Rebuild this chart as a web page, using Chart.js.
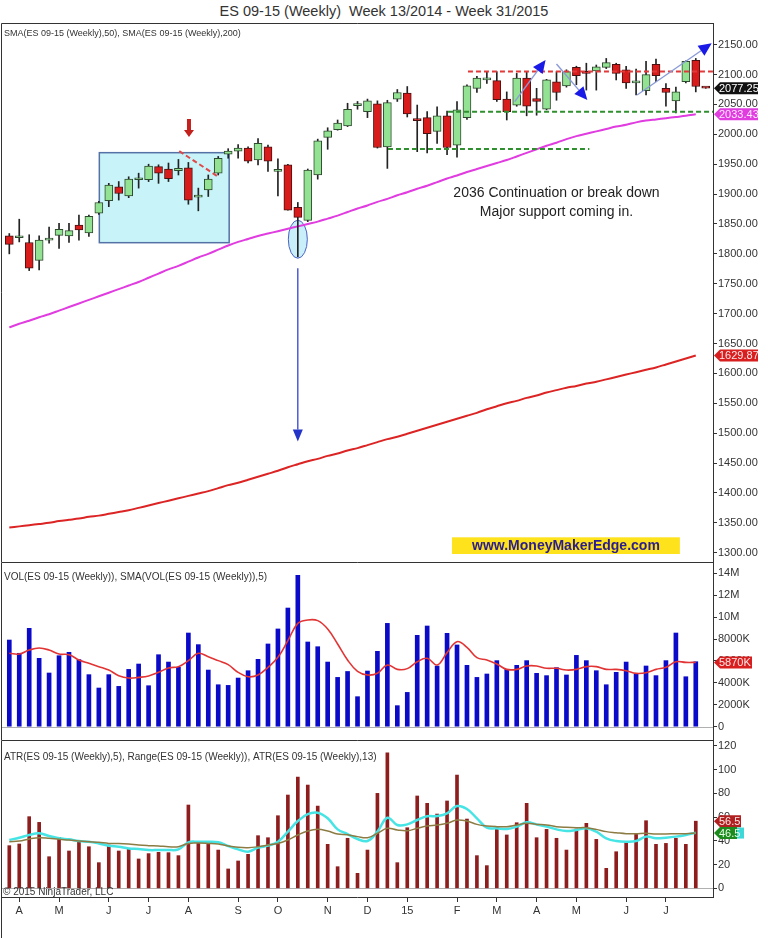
<!DOCTYPE html>
<html>
<head>
<meta charset="utf-8">
<title>ES 09-15 (Weekly)</title>
<script src="https://cdn.jsdelivr.net/npm/chart.js@4.4.1/dist/chart.umd.min.js"></script>
<style>
  html, body { margin: 0; padding: 0; background: #fff; }
  body { width: 768px; height: 938px; position: relative; overflow: hidden; font-family: "Liberation Sans", Arial, sans-serif; }
  #title { position: absolute; left: 0; top: 3px; width: 768px; text-align: center; font-size: 14.5px; color: #333; white-space: pre; }
  .pane { position: absolute; left: 0; width: 768px; }
  #pricePane { top: 23px; height: 539px; }
  #volPane { top: 562px; height: 178px; }
  #atrPane { top: 740px; height: 198px; }
</style>
</head>
<body>
<div id="title">ES 09-15 (Weekly)  Week 13/2014 - Week 31/2015</div>
<div class="pane" id="pricePane"><canvas id="priceChart"></canvas></div>
<div class="pane" id="volPane"><canvas id="volChart"></canvas></div>
<div class="pane" id="atrPane"><canvas id="atrChart"></canvas></div>
<script>
// weekly bars, index 0 = last week of March 2014, index 70 = week 31/2015
const opens = [1830, 1827, 1819, 1789, 1823, 1831, 1830, 1848, 1835, 1868,
  1889, 1912, 1897, 1924, 1924, 1946, 1942, 1939, 1944, 1895,
  1907, 1935, 1967, 1972, 1977, 1957, 1979, 1938, 1949, 1878,
  1856, 1932, 1995, 2008, 2014, 2048, 2038, 2051, 1979, 2059,
  2069, 2025, 2028, 2005, 2031, 1982, 2028, 2077, 2091, 2090,
  2059, 2049, 2094, 2060, 2042, 2088, 2081, 2112, 2105, 2106,
  2112, 2117, 2108, 2086, 2073, 2117, 2077, 2056, 2088, 2124,
  2078];
const highs = [1834, 1858, 1832, 1830, 1845, 1851, 1851, 1865, 1865, 1888,
  1918, 1921, 1929, 1935, 1950, 1949, 1952, 1958, 1953, 1910,
  1932, 1963, 1976, 1983, 1979, 1993, 1982, 1959, 1950, 1886,
  1942, 1992, 2011, 2024, 2052, 2055, 2059, 2056, 2057, 2075,
  2080, 2049, 2038, 2046, 2039, 2055, 2083, 2097, 2104, 2105,
  2071, 2102, 2105, 2077, 2092, 2105, 2108, 2114, 2119, 2116,
  2127, 2119, 2114, 2109, 2122, 2126, 2085, 2079, 2123, 2127,
  2078.5];
const lows = [1800, 1820, 1772, 1773, 1818, 1809, 1819, 1823, 1829, 1866,
  1879, 1890, 1894, 1910, 1921, 1918, 1921, 1932, 1883, 1872,
  1896, 1932, 1960, 1960, 1952, 1949, 1938, 1897, 1873, 1795,
  1854, 1925, 1975, 2007, 2013, 2042, 2028, 1977, 1943, 2055,
  2029, 1971, 1969, 1985, 1966, 1962, 2025, 2070, 2085, 2055,
  2024, 2047, 2031, 2032, 2041, 2057, 2079, 2083, 2074, 2074,
  2110, 2091, 2077, 2066, 2066, 2088, 2047, 2036, 2086, 2071,
  2077];
const closes = [1816, 1828, 1776, 1823, 1825, 1841, 1839, 1840, 1863, 1886,
  1915, 1901, 1925, 1926, 1947, 1935, 1926, 1943, 1890, 1896,
  1925, 1960, 1972, 1977, 1955, 1985, 1955, 1941, 1873, 1861,
  1940, 1989, 2006, 2019, 2042, 2049, 2056, 1978, 2053, 2070,
  2034, 2023, 2001, 2031, 1978, 2041, 2081, 2094, 2092, 2058,
  2038, 2094, 2047, 2055, 2091, 2070, 2105, 2098, 2102, 2113,
  2120, 2102, 2086, 2087, 2100, 2098, 2070, 2071, 2122, 2080,
  2077.25];

const sma50 = [1677, 1683, 1688, 1694, 1699, 1705, 1711, 1717, 1723, 1729,
  1735, 1741, 1747, 1753, 1760, 1767, 1774, 1780, 1787, 1794,
  1800, 1807, 1814, 1820, 1825, 1830, 1834, 1838, 1842, 1846,
  1850, 1854, 1859, 1864, 1870, 1876, 1881, 1887, 1892, 1898,
  1903, 1909, 1914, 1920, 1926, 1931, 1937, 1942, 1947, 1952,
  1957, 1963, 1969, 1975, 1981, 1986, 1992, 1997, 2001, 2005,
  2009, 2013, 2016, 2020, 2023, 2025, 2027, 2029, 2031, 2033.43];
const sma200 = [1342, 1344, 1346, 1348, 1350, 1353, 1355, 1357, 1360, 1362,
  1365, 1368, 1371, 1375, 1379, 1383, 1387, 1391, 1395, 1399,
  1403, 1408, 1413, 1417, 1422, 1427, 1432, 1437, 1443, 1448,
  1453, 1457, 1462, 1466, 1471, 1475, 1480, 1485, 1490, 1494,
  1499, 1504, 1509, 1514, 1519, 1524, 1529, 1534, 1540, 1545,
  1550, 1554, 1559, 1563, 1568, 1572, 1576, 1579, 1583, 1586,
  1590, 1594, 1598, 1602, 1606, 1610, 1615, 1620, 1625, 1629.87];

// volume in thousands of contracts
const volumes = [7910, 6700, 8980, 6240, 4900, 6480, 6790, 6120, 4750, 3530,
  4750, 3680, 5230, 5720, 3740, 6570, 5900, 5420, 8550, 7490,
  5170, 3830, 3770, 4440, 5110, 6150, 7550, 8920, 10830, 13820,
  7730, 7300, 5900, 4500, 5040, 2740, 5080, 6880, 9430, 1920,
  3130, 8340, 9190, 5540, 8520, 7460, 5600, 4500, 4810, 6030,
  5230, 5600, 6030, 4870, 4660, 5390, 4720, 6510, 6030, 5110,
  3830, 4960, 5900, 4810, 5540, 4660, 6030, 8550, 4560, 5930];
const volumeSma5 = [6700, 6630, 7000, 7180, 7000, 6630, 6570, 6090, 5780, 5480,
  5170, 4660, 4440, 4500, 4630, 4960, 5360, 5480, 6030, 6700,
  6390, 6030, 5660, 4960, 4560, 4720, 5420, 6330, 7850, 9430,
  9740, 9680, 8920, 7550, 6090, 5050, 4720, 4870, 5630, 5230,
  5300, 5930, 6240, 5630, 6760, 7760, 7240, 6300, 6090, 5720,
  5230, 5230, 5540, 5540, 5330, 5330, 5170, 5230, 5480, 5480,
  5230, 5230, 5110, 4870, 4930, 5230, 5420, 5930, 5870, 5870];

const ranges = [35.9, 37.3, 60.3, 55.5, 26.6, 42.9, 31.4, 39.8, 35.0, 21.6,
  36.4, 31.4, 33.6, 24.7, 29.2, 30.3, 30.0, 27.5, 70.1, 38.7,
  37.8, 32.2, 16.3, 23.0, 28.6, 44.3, 42.6, 61.1, 78.5, 93.6,
  86.9, 69.2, 37.0, 18.2, 42.1, 12.6, 32.2, 79.9, 114.1, 21.6,
  51.0, 77.7, 71.5, 62.5, 73.5, 95.3, 58.3, 27.5, 19.1, 51.0,
  44.9, 55.2, 71.5, 42.6, 49.6, 42.1, 32.2, 49.9, 54.7, 41.2,
  16.8, 30.8, 38.4, 45.4, 56.9, 37.0, 37.8, 42.1, 37.0, 56.5];
const atr5 = [40.7, 42.6, 44.9, 46.3, 44.0, 42.1, 41.2, 39.8, 39.2, 37.8,
  35.9, 35.0, 33.6, 33.1, 32.2, 32.2, 32.2, 32.8, 38.7, 39.2,
  39.2, 38.7, 35.6, 32.8, 30.8, 34.2, 35.9, 39.2, 47.7, 56.6,
  62.5, 63.6, 58.9, 49.6, 45.7, 41.5, 39.8, 47.7, 59.4, 53.3,
  53.8, 57.5, 60.6, 60.8, 63.1, 69.2, 66.7, 58.9, 51.0, 50.5,
  49.9, 51.9, 55.5, 53.8, 51.9, 49.6, 48.2, 49.1, 50.5, 47.7,
  42.1, 39.8, 39.2, 39.8, 43.5, 42.1, 42.6, 43.5, 44.9, 46.8];
const atr13 = [39.2, 39.8, 41.5, 42.6, 42.1, 41.2, 40.7, 39.8, 39.2, 38.7,
  37.8, 37.8, 37.3, 36.4, 35.9, 35.6, 35.0, 35.0, 37.8, 38.1,
  37.8, 37.3, 35.6, 34.5, 34.2, 35.0, 36.4, 37.8, 40.7, 44.9,
  48.2, 49.6, 48.2, 45.7, 45.1, 43.5, 42.6, 46.3, 50.5, 49.1,
  48.5, 50.5, 52.4, 53.3, 54.7, 57.5, 56.6, 53.8, 52.4, 51.9,
  51.9, 53.3, 54.7, 53.8, 53.3, 51.9, 51.3, 51.0, 51.0, 49.6,
  47.7, 46.8, 46.0, 46.0, 46.3, 45.7, 45.7, 46.0, 46.0, 46.5];

const monthTicks = [1, 5, 10, 14, 18, 23, 27, 32, 36, 40, 45, 49, 53, 57, 62, 66];
const monthLabels = ['A', 'M', 'J', 'J', 'A', 'S', 'O', 'N', 'D', '15', 'F', 'M', 'A', 'M', 'J', 'J'];
const priceTicks = [1300, 1350, 1400, 1450, 1500, 1550, 1600, 1650, 1700, 1750,
  1800, 1850, 1900, 1950, 2000, 2050, 2100, 2150];
const volumeTicks = [0, 2000, 4000, 6000, 8000, 10000, 12000, 14000];
const atrTicks = [0, 20, 40, 60, 80, 100, 120];

const X_MIN = -0.834, X_MAX = 70.73;
const FONT = '"Liberation Sans", Arial, Helvetica, sans-serif';

Chart.defaults.font.family = FONT;
Chart.defaults.color = '#333';
Chart.defaults.animation = false;
Chart.defaults.plugins.legend.display = false;
Chart.defaults.plugins.tooltip.enabled = false;

const pts = arr => arr.map((v, i) => ({ x: i, y: v }));
const last = arr => arr[arr.length - 1];

function hiddenX() {
  return { type: 'linear', min: X_MIN, max: X_MAX, offset: false, grid: { offset: false }, display: false };
}

function rightAxis(min, max, ticks, fmt) {
  return {
    position: 'right', min: min, max: max,
    afterBuildTicks: s => { s.ticks = ticks.map(v => ({ value: v })); },
    afterFit: s => { s.width = 55; s.paddingTop = 0; s.paddingBottom = 0; },
    grid: { drawOnChartArea: false, drawTicks: true, tickLength: 4, color: '#333' },
    border: { display: true, color: '#333' },
    ticks: { callback: v => fmt(v), font: { size: 11 }, color: '#333', padding: 1 }
  };
}

function tag(ctx, y, text, bg, fg, w) {
  const left = 714;
  ctx.save();
  ctx.beginPath();
  ctx.moveTo(left, y);
  ctx.lineTo(left + 6, y - 6);
  ctx.lineTo(left + w, y - 6);
  ctx.lineTo(left + w, y + 6);
  ctx.lineTo(left + 6, y + 6);
  ctx.closePath();
  ctx.fillStyle = bg;
  ctx.fill();
  ctx.fillStyle = fg;
  ctx.font = '11px ' + FONT;
  ctx.textBaseline = 'middle';
  ctx.textAlign = 'left';
  ctx.fillText(text, left + 5, y + 0.5);
  ctx.restore();
}

function frame(chart, label) {
  const { ctx, chartArea: a } = chart;
  ctx.save();
  ctx.strokeStyle = '#333';
  ctx.lineWidth = 1;
  ctx.beginPath();
  ctx.moveTo(a.right, a.top + 0.5);
  ctx.lineTo(1.5, a.top + 0.5);
  ctx.lineTo(1.5, chart.height);
  ctx.stroke();
  ctx.fillStyle = '#333';
  ctx.font = label.size + 'px ' + FONT;
  ctx.textBaseline = 'middle';
  ctx.fillText(label.text, 4, a.top + label.dy);
  ctx.restore();
}

function zeroLine(chart) {
  const { ctx, chartArea: a } = chart;
  const y = Math.round(chart.scales.y.getPixelForValue(0)) + 0.5;
  ctx.save();
  ctx.strokeStyle = '#b0b0b0';
  ctx.beginPath();
  ctx.moveTo(a.left, y);
  ctx.lineTo(a.right, y);
  ctx.stroke();
  ctx.restore();
}

function arrow(ctx, x1, y1, x2, y2, lineColor, headColor, width, headLen, headHalf) {
  const ang = Math.atan2(y2 - y1, x2 - x1);
  const bx = x2 - headLen * Math.cos(ang), by = y2 - headLen * Math.sin(ang);
  ctx.strokeStyle = lineColor;
  ctx.lineWidth = width;
  ctx.beginPath();
  ctx.moveTo(x1, y1);
  ctx.lineTo(bx, by);
  ctx.stroke();
  ctx.fillStyle = headColor;
  ctx.beginPath();
  ctx.moveTo(x2, y2);
  ctx.lineTo(bx + headHalf * Math.sin(ang), by - headHalf * Math.cos(ang));
  ctx.lineTo(bx - headHalf * Math.sin(ang), by + headHalf * Math.cos(ang));
  ctx.closePath();
  ctx.fill();
}

function dashed(ctx, x1, y1, x2, y2, color) {
  ctx.save();
  ctx.strokeStyle = color;
  ctx.lineWidth = 2;
  ctx.setLineDash([5, 3]);
  ctx.beginPath();
  ctx.moveTo(x1, y1);
  ctx.lineTo(x2, y2);
  ctx.stroke();
  ctx.restore();
}

// ---- price panel ----
const up = closes.map((c, i) => c >= opens[i]);
const priceNotes = {
  id: 'priceNotes',
  beforeDatasetsDraw(chart) {
    const { ctx, scales: { x, y } } = chart;
    // shaded consolidation box
    ctx.save();
    ctx.fillStyle = '#c8f3f8';
    ctx.strokeStyle = '#5572a6';
    ctx.lineWidth = 1.5;
    const bx = x.getPixelForValue(9.05), by = y.getPixelForValue(1969.3);
    const bw = x.getPixelForValue(22.1) - bx, bh = y.getPixelForValue(1818.7) - by;
    ctx.fillRect(bx, by, bw, bh);
    ctx.strokeRect(bx, by, bw, bh);
    // ellipse around October low
    const ex = x.getPixelForValue(29), ey = y.getPixelForValue(1824.5);
    ctx.beginPath();
    ctx.ellipse(ex, ey, 9.5, 19, 0, 0, Math.PI * 2);
    ctx.fillStyle = '#c9effb';
    ctx.fill();
    ctx.strokeStyle = '#4a62c4';
    ctx.lineWidth = 1;
    ctx.stroke();
    ctx.restore();
  },
  afterDatasetsDraw(chart) {
    const { ctx, scales: { x, y } } = chart;
    const X = v => x.getPixelForValue(v), Y = v => y.getPixelForValue(v);
    ctx.save();
    // horizontal levels
    dashed(ctx, X(38.06), Y(1975.5), X(58.3), Y(1975.5), '#2f8f2f');
    dashed(ctx, X(44.1), Y(2038), chart.chartArea.right, Y(2038), '#2f8f2f');
    dashed(ctx, X(46.1), Y(2105), chart.chartArea.right, Y(2105), '#e23a3a');
    dashed(ctx, X(17.08), Y(1972), X(21.1), Y(1928), '#e04848');
    // red down arrow
    const ax = X(18.06), at = Y(2025.7);
    ctx.fillStyle = '#c4201c';
    ctx.beginPath();
    ctx.moveTo(ax - 2, at);
    ctx.lineTo(ax + 2, at);
    ctx.lineTo(ax + 2, at + 11);
    ctx.lineTo(ax + 5, at + 11);
    ctx.lineTo(ax, at + 18);
    ctx.lineTo(ax - 5, at + 11);
    ctx.lineTo(ax - 2, at + 11);
    ctx.closePath();
    ctx.fill();
    // blue arrows
    arrow(ctx, X(29), Y(1776), X(29), Y(1486), '#2434c8', '#2434c8', 1.2, 12, 5);
    arrow(ctx, X(50.8), Y(2054.6), X(53.9), Y(2124.4), '#8a9bd8', '#1a1ae6', 1.4, 13, 6);
    arrow(ctx, X(55.0), Y(2117.7), X(58.1), Y(2057.5), '#8a9bd8', '#1a1ae6', 1.4, 13, 6);
    arrow(ctx, X(63.1), Y(2065.8), X(70.6), Y(2152.3), '#8a9bd8', '#1a1ae6', 1.4, 13, 6);
    // comment text
    ctx.fillStyle = '#222';
    ctx.font = '14px ' + FONT;
    ctx.textAlign = 'center';
    ctx.textBaseline = 'middle';
    ctx.fillText('2036 Continuation or break down', X(55), Y(1901.8));
    ctx.fillText('Major support coming in.', X(55), Y(1870));
    // web address banner
    const yx = X(44.5), yy = Y(1325.7);
    ctx.fillStyle = '#fde21c';
    ctx.fillRect(yx, yy, X(67.4) - yx, Y(1297.8) - yy);
    ctx.fillStyle = '#2b1d8e';
    ctx.font = 'bold 14px ' + FONT;
    ctx.fillText('www.MoneyMakerEdge.com', (yx + X(67.4)) / 2, (yy + Y(1297.8)) / 2 + 0.5);
    ctx.restore();
  },
  afterDraw(chart) {
    const y = chart.scales.y;
    frame(chart, { text: 'SMA(ES 09-15 (Weekly),50), SMA(ES 09-15 (Weekly),200)', size: 9, dy: 11 });
    tag(chart.ctx, y.getPixelForValue(last(closes)), last(closes).toFixed(2), '#111', '#fff', 44);
    tag(chart.ctx, y.getPixelForValue(last(sma50)), last(sma50).toFixed(2), '#e03ce0', '#fde8fd', 44);
    tag(chart.ctx, y.getPixelForValue(last(sma200)), last(sma200).toFixed(2), '#d81e1e', '#fde8e8', 44);
  }
};

new Chart(document.getElementById('priceChart'), {
  type: 'bar',
  data: {
    datasets: [
      { type: 'line', data: pts(sma200), borderColor: '#dc2424', borderWidth: 2, pointRadius: 0, tension: 0.3, order: 4 },
      { type: 'line', data: pts(sma50), borderColor: '#e03ce0', borderWidth: 2, pointRadius: 0, tension: 0.3, order: 3 },
      { data: highs.map((h, i) => ({ x: i, y: [lows[i], h] })), backgroundColor: '#222', barThickness: 1, grouped: false, order: 2 },
      {
        data: opens.map((o, i) => ({ x: i, y: [Math.min(o, closes[i]), Math.max(o, closes[i])] })),
        backgroundColor: up.map(u => u ? '#93e293' : '#d81c1c'),
        borderColor: up.map(u => u ? '#2e4a2e' : '#4a1010'),
        borderWidth: 1, borderSkipped: false, barThickness: 8, minBarLength: 2, grouped: false, order: 1
      }
    ]
  },
  options: {
    responsive: true, maintainAspectRatio: false,
    layout: { padding: { left: 1, top: 0, right: 0, bottom: 0 } },
    scales: {
      x: hiddenX(),
      y: rightAxis(1284.4, 2186.3, priceTicks, v => v.toFixed(2))
    }
  },
  plugins: [priceNotes]
});

// ---- volume panel ----
const fmtVol = v => v === 0 ? '0' : (v >= 10000 ? (v / 1000) + 'M' : v + 'K');
new Chart(document.getElementById('volChart'), {
  type: 'bar',
  data: {
    datasets: [
      { type: 'line', data: pts(volumeSma5), borderColor: '#e23434', borderWidth: 1.6, pointRadius: 0, tension: 0.4, order: 1 },
      { data: pts(volumes), backgroundColor: '#0a0ac8', barThickness: 4, grouped: false, order: 2 }
    ]
  },
  options: {
    responsive: true, maintainAspectRatio: false,
    layout: { padding: { left: 1, top: 0, right: 0, bottom: 0 } },
    scales: {
      x: hiddenX(),
      y: rightAxis(-1214, 15031, volumeTicks, fmtVol)
    }
  },
  plugins: [{
    id: 'volNotes',
    beforeDatasetsDraw: zeroLine,
    afterDraw(chart) {
      frame(chart, { text: 'VOL(ES 09-15 (Weekly)), SMA(VOL(ES 09-15 (Weekly)),5)', size: 10, dy: 15 });
      tag(chart.ctx, chart.scales.y.getPixelForValue(last(volumeSma5)), fmtVol(last(volumeSma5)), '#d81e1e', '#fde8e8', 38);
    }
  }]
});

// ---- ATR panel ----
new Chart(document.getElementById('atrChart'), {
  type: 'bar',
  data: {
    datasets: [
      { type: 'line', data: pts(atr13), borderColor: '#8c7c44', borderWidth: 1.5, pointRadius: 0, tension: 0.4, order: 1 },
      { type: 'line', data: pts(atr5), borderColor: '#46e4e4', borderWidth: 2.5, pointRadius: 0, tension: 0.4, order: 2 },
      { data: pts(ranges), backgroundColor: '#8e1e1e', barThickness: 3, grouped: false, order: 3 }
    ]
  },
  options: {
    responsive: true, maintainAspectRatio: false,
    layout: { padding: { left: 1, top: 0, right: 0, bottom: 0 } },
    scales: {
      x: {
        type: 'linear', min: X_MIN, max: X_MAX, offset: false,
        afterBuildTicks: s => { s.ticks = monthTicks.map(v => ({ value: v })); },
        afterFit: s => { s.height = 41; s.paddingLeft = 0; s.paddingRight = 0; },
        grid: { drawOnChartArea: false, offset: false, tickLength: 5, color: '#333' },
        border: { display: true, color: '#333' },
        ticks: { autoSkip: false, maxRotation: 0, font: { size: 11 }, color: '#333', padding: 2, callback: (v, i) => monthLabels[i] }
      },
      y: rightAxis(-7.3, 124.8, atrTicks, v => String(v))
    }
  },
  plugins: [{
    id: 'atrNotes',
    beforeDatasetsDraw: zeroLine,
    afterDraw(chart) {
      const { ctx, chartArea: a, scales: { y } } = chart;
      frame(chart, { text: 'ATR(ES 09-15 (Weekly),5), Range(ES 09-15 (Weekly)), ATR(ES 09-15 (Weekly),13)', size: 10, dy: 17 });
      ctx.save();
      ctx.fillStyle = '#333';
      ctx.font = '10px ' + FONT;
      ctx.textBaseline = 'middle';
      ctx.fillText('\u00a9 2015 NinjaTrader, LLC', 3, a.bottom - 5);
      ctx.restore();
      tag(ctx, y.getPixelForValue(last(ranges)), last(ranges).toFixed(1), '#b02020', '#fde8e8', 27);
      ctx.save();
      ctx.fillStyle = '#3ed8d8';
      const cy = y.getPixelForValue(last(atr13));
      ctx.fillRect(735, cy - 5.5, 9, 11);
      ctx.restore();
      tag(ctx, cy, last(atr13).toFixed(1), '#1c8a1c', '#e8fde8', 23);
    }
  }]
});
</script>
</body>
</html>
